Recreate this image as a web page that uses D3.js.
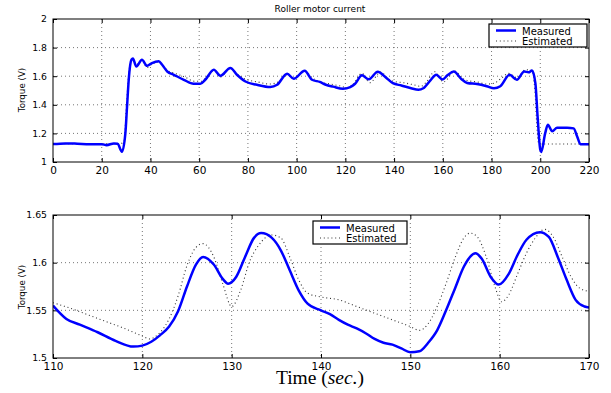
<!DOCTYPE html>
<html>
<head>
<meta charset="utf-8">
<script src="https://d3js.org/d3.v7.min.js"></script>
<style>
  body { margin: 0; background: white; }
  text { font-family: "DejaVu Sans", sans-serif; }
</style>
</head>
<body>
<script>
// top panel : whole run, 0 - 220 sec
var t1 =     [0, 5, 10, 15, 20, 22, 25, 26.5, 28.3, 29.7, 30.4, 31.1, 32.2, 32.8, 34.2, 36.5, 38.6, 40.6, 43.4, 44.8, 46.9, 49.6, 53.7, 57.7, 60.5, 62.5, 66, 68.7, 72.8, 75.5, 79, 83.7, 89.2, 92, 96.1, 98.8, 103.3, 106.3, 109.5,
              112, 115, 119, 122, 124, 126.8, 129.6, 133.3, 136.5, 139.5, 143, 147, 150, 152, 155, 157.3, 159.9, 162, 164.5, 167.5, 170,
              174, 178, 181, 183.6, 187.4, 190.4, 193.4, 195.2, 196.6, 198, 198.9, 200, 200.4, 202, 203.1, 204.9, 206.9, 211, 213.7, 215.1, 216.5, 220];
var meas1 =  [1.125, 1.13, 1.128, 1.125, 1.125, 1.118, 1.13, 1.128, 1.072, 1.2, 1.39, 1.58, 1.715, 1.723, 1.668, 1.715, 1.673, 1.692, 1.704, 1.68, 1.633, 1.61, 1.575, 1.547, 1.547, 1.575, 1.645, 1.603, 1.657, 1.61, 1.563, 1.54, 1.524, 1.54, 1.617, 1.582, 1.638, 1.575, 1.56,
              1.54, 1.527, 1.512, 1.524, 1.547, 1.606, 1.578, 1.631, 1.592, 1.551, 1.535, 1.516, 1.506, 1.516, 1.573, 1.61, 1.577, 1.608, 1.632, 1.582, 1.553,
              1.545, 1.53, 1.516, 1.53, 1.61, 1.575, 1.633, 1.627, 1.64, 1.55, 1.318, 1.085, 1.07, 1.2, 1.26, 1.215, 1.24, 1.24, 1.235, 1.18, 1.125, 1.125];
var t1e =    [0, 10, 20, 28, 29.2, 30, 31, 32, 32.8, 34.2, 36.5, 38.6, 40.6, 43.4, 45, 47, 50, 54, 58, 61, 63, 66, 68.7, 72.8, 75.5, 79, 84, 89, 92.5, 96, 98.8, 103.3, 106.3, 110,
              114, 118, 120.5, 123, 126.8, 130, 134.5, 137.5, 140, 144, 148, 151, 153, 156.7, 160.2, 165, 168, 170,
              174, 178, 181, 183.6, 187, 190.4, 194, 196.5, 197.8, 198.6, 199.3, 200.2, 205, 210, 215, 220];
var est1 =   [1.128, 1.128, 1.128, 1.13, 1.15, 1.35, 1.6, 1.71, 1.72, 1.68, 1.71, 1.66, 1.685, 1.7, 1.675, 1.64, 1.62, 1.595, 1.565, 1.565, 1.595, 1.64, 1.595, 1.655, 1.615, 1.58, 1.56, 1.545, 1.56, 1.61, 1.585, 1.635, 1.59, 1.557,
              1.545, 1.531, 1.52, 1.54, 1.62, 1.554, 1.629, 1.582, 1.564, 1.554, 1.54, 1.529, 1.554, 1.631, 1.559, 1.635, 1.585, 1.57,
              1.56, 1.545, 1.55, 1.58, 1.62, 1.59, 1.645, 1.64, 1.5, 1.25, 1.135, 1.126, 1.126, 1.126, 1.126, 1.126];

// bottom panel : zoom on 110 - 170 sec
var t2 =     [110, 111.5, 113, 115, 117, 119, 120, 121, 122, 123, 124, 125, 126, 126.8, 128, 129, 129.6, 130.5, 131.5, 132.5, 133.3, 134.5, 135.5, 136.5, 137.5, 138.5, 140, 141, 142, 143, 144, 145, 146, 147, 148, 149, 150, 151, 152, 153, 154, 155, 156, 157.3, 158, 159, 159.9, 161, 162, 163, 164.5, 165.5, 166.5, 167.5, 168.5, 169.5, 170];
var meas2 =  [1.555, 1.541, 1.535, 1.527, 1.518, 1.512, 1.513, 1.517, 1.524, 1.533, 1.549, 1.575, 1.598, 1.606, 1.598, 1.583, 1.578, 1.585, 1.606, 1.626, 1.631, 1.626, 1.613, 1.592, 1.571, 1.557, 1.550, 1.546, 1.540, 1.535, 1.531, 1.526, 1.520, 1.516, 1.514, 1.510, 1.506, 1.507, 1.516, 1.529, 1.55, 1.573, 1.596, 1.610, 1.604, 1.585, 1.577, 1.588, 1.608, 1.624, 1.632, 1.627, 1.606, 1.582, 1.561, 1.554, 1.553];
var t2e =    [110, 112, 114, 116, 118, 120, 120.8, 122, 123, 124, 125, 126, 126.8, 128, 129, 130, 131, 132, 133, 134.5, 135.5, 136.5, 137.5, 138.5, 140, 142, 144, 146, 148, 150, 151, 152, 153, 154, 155, 156, 156.7, 157.5, 158.5, 159.5, 160.2, 161, 162, 163, 164, 165, 166, 167, 168, 169, 170];
var est2 =   [1.558, 1.552, 1.545, 1.538, 1.531, 1.523, 1.520, 1.527, 1.541, 1.565, 1.597, 1.616, 1.620, 1.606, 1.578, 1.554, 1.571, 1.601, 1.618, 1.629, 1.626, 1.606, 1.582, 1.568, 1.564, 1.561, 1.554, 1.547, 1.540, 1.533, 1.529, 1.536, 1.554, 1.578, 1.605, 1.626, 1.631, 1.627, 1.606, 1.574, 1.559, 1.566, 1.588, 1.610, 1.626, 1.635, 1.627, 1.606, 1.585, 1.573, 1.570];

var xTicks1 = [0, 20, 40, 60, 80, 100, 120, 140, 160, 180, 200, 220];
var yTicks1 = [1, 1.2, 1.4, 1.6, 1.8, 2];
var xTicks2 = [110, 120, 130, 140, 150, 160, 170];
var yTicks2 = [1.5, 1.55, 1.6, 1.65];
var seriesNames = ["Measured", "Estimated"];

var width = 611, height = 393;
var svg = d3.select("body").append("svg")
    .attr("width", width)
    .attr("height", height);

function panel(box, xDom, yDom, xTicks, yTicks, lines, legendPos) {
  var x = d3.scaleLinear().domain(xDom).range([box.left, box.right]);
  var y = d3.scaleLinear().domain(yDom).range([box.bottom, box.top]);
  var g = svg.append("g");

  g.append("rect")
    .attr("x", box.left).attr("y", box.top)
    .attr("width", box.right - box.left).attr("height", box.bottom - box.top)
    .attr("fill", "white");

  // dotted grid
  g.selectAll(".gx").data(xTicks.slice(1, -1)).enter().append("line")
    .attr("x1", d => x(d)).attr("x2", d => x(d))
    .attr("y1", box.top).attr("y2", box.bottom)
    .attr("stroke", "#666").attr("stroke-width", 0.9).attr("stroke-dasharray", "1,3");
  g.selectAll(".gy").data(yTicks.slice(1, -1)).enter().append("line")
    .attr("x1", box.left).attr("x2", box.right)
    .attr("y1", d => y(d)).attr("y2", d => y(d))
    .attr("stroke", "#666").attr("stroke-width", 0.9).attr("stroke-dasharray", "1,3");

  // inward ticks on all four sides
  g.append("g").attr("class", "xax").attr("transform", "translate(0," + box.bottom + ")")
    .call(d3.axisBottom(x).tickValues(xTicks).tickSize(-4).tickPadding(5).tickFormat(d3.format("d")))
    .call(a => a.select(".domain").remove());
  g.append("g").attr("transform", "translate(0," + box.top + ")")
    .call(d3.axisTop(x).tickValues(xTicks).tickSize(-4).tickFormat(""))
    .call(a => a.select(".domain").remove());
  g.append("g").attr("class", "yax").attr("transform", "translate(" + box.left + ",0)")
    .call(d3.axisLeft(y).tickValues(yTicks).tickSize(-4).tickPadding(6).tickFormat(d3.format("~g")))
    .call(a => a.select(".domain").remove());
  g.append("g").attr("transform", "translate(" + box.right + ",0)")
    .call(d3.axisRight(y).tickValues(yTicks).tickSize(-4).tickFormat(""))
    .call(a => a.select(".domain").remove());
  g.selectAll(".tick text").attr("fill", "#000").attr("font-family", "DejaVu Sans, sans-serif");
  g.selectAll(".xax .tick text").attr("font-size", 10.5);
  g.selectAll(".yax .tick text").attr("font-size", 9.3);

  var clipId = "clip" + box.top;
  svg.append("clipPath").attr("id", clipId).append("rect")
    .attr("x", box.left).attr("y", box.top)
    .attr("width", box.right - box.left).attr("height", box.bottom - box.top);

  var line = d3.line().x(d => x(d[0])).y(d => y(d[1])).curve(d3.curveMonotoneX);
  // estimated first, measured on top
  g.append("path").datum(d3.zip(lines.te, lines.e))
    .attr("clip-path", "url(#" + clipId + ")")
    .attr("d", line).attr("fill", "none")
    .attr("stroke", "#333").attr("stroke-width", 1.1).attr("stroke-dasharray", "1,2.8");
  g.append("path").datum(d3.zip(lines.tm, lines.m))
    .attr("clip-path", "url(#" + clipId + ")")
    .attr("d", line).attr("fill", "none")
    .attr("stroke", "#0000ff").attr("stroke-width", 2.5).attr("stroke-linejoin", "round");

  g.append("rect")
    .attr("x", box.left).attr("y", box.top)
    .attr("width", box.right - box.left).attr("height", box.bottom - box.top)
    .attr("fill", "none").attr("stroke", "#000").attr("stroke-width", 1);

  // legend
  var lg = g.append("g").attr("transform", "translate(" + legendPos[0] + "," + legendPos[1] + ")");
  lg.append("rect").attr("width", legendPos[2]).attr("height", 23)
    .attr("fill", "white").attr("stroke", "#000").attr("stroke-width", 1.2);
  lg.append("line").attr("x1", 7).attr("x2", 27).attr("y1", 6.5).attr("y2", 6.5)
    .attr("stroke", "#0000ff").attr("stroke-width", 2.5);
  lg.append("line").attr("x1", 7).attr("x2", 27).attr("y1", 17).attr("y2", 17)
    .attr("stroke", "#333").attr("stroke-width", 1.1).attr("stroke-dasharray", "1,2.8");
  lg.selectAll("text").data(seriesNames).enter().append("text")
    .attr("x", 33).attr("y", (d, i) => 10.5 + i * 10.5)
    .attr("font-size", 10).text(d => d);

  return g;
}

panel({left: 53, right: 589, top: 19, bottom: 162}, [0, 220], [1, 2], xTicks1, yTicks1,
      {tm: t1, m: meas1, te: t1e, e: est1}, [489, 24, 98]);
panel({left: 53, right: 589, top: 215, bottom: 358}, [110, 170], [1.5, 1.65], xTicks2, yTicks2,
      {tm: t2, m: meas2, te: t2e, e: est2}, [313, 221, 94]);

svg.append("text").attr("x", 320).attr("y", 12).attr("text-anchor", "middle")
  .attr("font-size", 9).text("Roller motor current");

svg.append("text").attr("transform", "translate(25,90) rotate(-90)")
  .attr("text-anchor", "middle").attr("font-size", 8.7).text("Torque (V)");
svg.append("text").attr("transform", "translate(25,287) rotate(-90)")
  .attr("text-anchor", "middle").attr("font-size", 8.7).text("Torque (V)");

var xl = svg.append("text").attr("x", 320).attr("y", 384).attr("text-anchor", "middle")
  .attr("font-size", 19.5)
  .style("font-family", "Liberation Serif, serif");
xl.append("tspan").text("Time (");
xl.append("tspan").attr("font-style", "italic").text("sec.");
xl.append("tspan").text(")");
</script>
</body>
</html>
